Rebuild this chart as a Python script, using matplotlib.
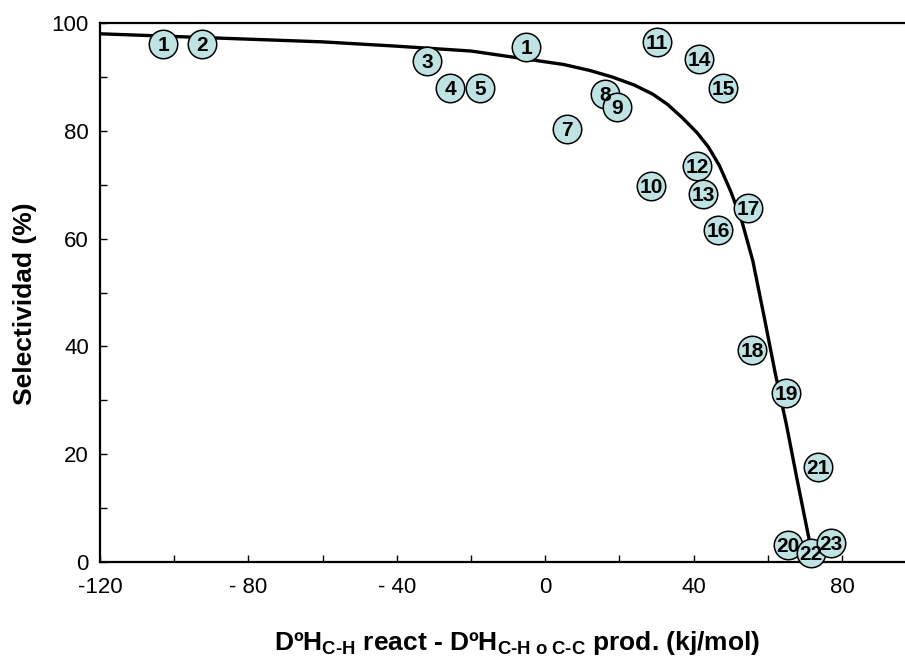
import matplotlib
matplotlib.use("Agg")
import matplotlib.pyplot as plt

plt.rcParams['font.family'] = ['Liberation Sans', 'DejaVu Sans']
plt.rcParams['mathtext.fontset'] = 'custom'
plt.rcParams['mathtext.rm'] = 'Liberation Sans:bold'
plt.rcParams['mathtext.it'] = 'Liberation Sans:bold'
plt.rcParams['mathtext.bf'] = 'Liberation Sans:bold'

# Data points (labels, x, y)
labels = ['1', '2', '3', '4', '5', '1', '7', '8', '9', '10', '11', '12', '13',
          '14', '15', '16', '17', '18', '19', '20', '21', '22', '23']
x_pts = [-103, -92.5, -31.8, -25.6, -17.5, -5.1, 5.9, 16.2, 19.4, 28.6, 30.2,
         41.0, 42.6, 41.5, 48.0, 46.6, 54.7, 55.8, 65.0, 65.5, 73.6, 71.7, 77.1]
y_pts = [96.1, 96.1, 93.0, 87.9, 87.9, 95.5, 80.3, 86.8, 84.4, 69.8, 96.5,
         73.5, 68.3, 93.3, 87.9, 61.6, 65.7, 39.3, 31.4, 3.2, 17.6, 1.7, 3.5]

# Trend curve
curve_x = [-120, -100, -80, -60, -40, -20, -5, 5, 12, 18, 24, 29, 33, 37, 41,
           44, 47, 50, 53, 56, 59, 62, 65, 68, 71.5]
curve_y = [98.0, 97.5, 97.0, 96.5, 95.7, 94.8, 93.3, 92.3, 91.2, 90.0, 88.5,
           86.8, 84.9, 82.4, 79.6, 77.0, 73.5, 68.8, 63.3, 55.8, 45.6, 35.1,
           25.6, 15.0, 3.0]

xticks = [-120, -80, -40, 0, 40, 80]
xtick_labels = ['-120', '- 80', '- 40', '0', '40', '80']
yticks = [0, 20, 40, 60, 80, 100]

W, H = 905, 662
fig = plt.figure(figsize=(W / 100, H / 100), dpi=100)
left, right, top, bottom = 100, 905, 23, 562
ax = fig.add_axes([left / W, (H - bottom) / H, (right - left) / W, (bottom - top) / H])

ax.plot(curve_x, curve_y, color='black', lw=2.4, zorder=2, solid_joinstyle='round')

for lab, xv, yv in zip(labels, x_pts, y_pts):
    ax.plot(xv, yv, 'o', ms=20.5, mfc='#bfe2e3', mec='black', mew=1.1, zorder=3,
            clip_on=False)
    ax.text(xv, yv - 0.3, lab, ha='center', va='center', fontsize=15, fontweight='bold',
            zorder=4, clip_on=False)

ax.set_xlim(-120, 97)
ax.set_ylim(0, 100)

ax.set_xticks(xticks)
ax.set_xticklabels(xtick_labels)
ax.set_xticks([-100, -60, -20, 20, 60], minor=True)
ax.set_yticks(yticks)
ax.set_yticks([10, 30, 50, 70, 90], minor=True)

ax.tick_params(which='both', direction='in', width=1, labelsize=16, colors='black')
ax.tick_params(which='major', length=5)
ax.tick_params(which='minor', length=5)
ax.tick_params(axis='x', pad=11)
ax.tick_params(axis='y', pad=8)

for s in ['left', 'bottom', 'top']:
    ax.spines[s].set_linewidth(1.6)
ax.spines['right'].set_visible(False)

fig.text(25 / W, 1 - 304 / H, 'Selectividad (%)', rotation=90, ha='center', va='center',
         fontsize=19, fontweight='bold')
fig.text(517 / W, 1 - 643 / H,
         r'DºH$_{\text{C-H}}$ react - DºH$_{\text{C-H o C-C}}$ prod. (kj/mol)',
         ha='center', va='center', fontsize=19, fontweight='bold')

fig.savefig('out.png', dpi=100)
